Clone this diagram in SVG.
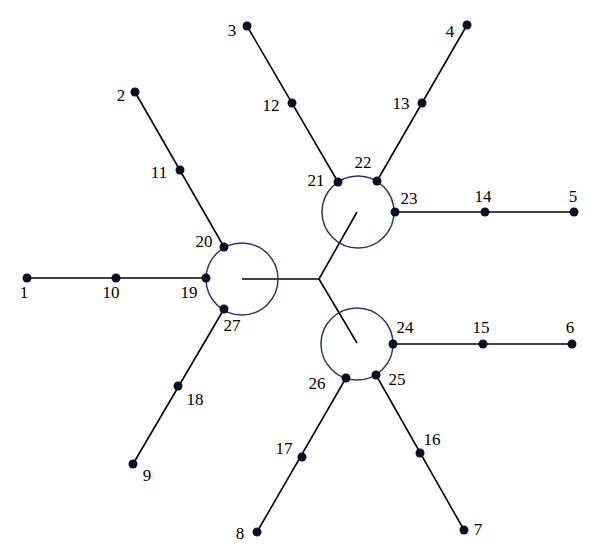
<svg xmlns="http://www.w3.org/2000/svg" width="600" height="560" viewBox="0 0 600 560">
<style>
.e{stroke:#000;stroke-width:1.6;fill:none}
.c{stroke:#2b3566;stroke-width:1.5;fill:none}
.d{fill:#0a0f26}
text{font-family:"Liberation Serif","Times New Roman",serif;font-size:17px;fill:#000;text-anchor:middle}
</style>
<rect width="600" height="560" fill="#fff"/>
<g id="connectors">
<line class="e" x1="27" y1="278" x2="206" y2="278"/>
<line class="e" x1="135" y1="92" x2="224" y2="247"/>
<line class="e" x1="133" y1="464" x2="224" y2="309"/>
<line class="e" x1="247" y1="26" x2="338" y2="182"/>
<line class="e" x1="467" y1="25" x2="377" y2="181"/>
<line class="e" x1="395" y1="212" x2="574" y2="212"/>
<line class="e" x1="393" y1="344" x2="572" y2="344"/>
<line class="e" x1="376" y1="375" x2="464" y2="530"/>
<line class="e" x1="346" y1="378" x2="257" y2="532"/>
<line class="e" x1="242" y1="279" x2="319" y2="279"/>
<line class="e" x1="319" y1="279" x2="357" y2="212"/>
<line class="e" x1="319" y1="279" x2="357" y2="343"/>
</g>
<g id="ring-left"><circle class="c" cx="242" cy="279" r="36"/></g>
<g id="ring-top"><circle class="c" cx="358" cy="212" r="36"/></g>
<g id="ring-bottom"><circle class="c" cx="357" cy="344" r="36"/></g>
<g id="n1"><circle class="d" cx="27" cy="278" r="4.5"/><text x="24" y="298">1</text></g>
<g id="n10"><circle class="d" cx="116" cy="278" r="4.5"/><text x="111" y="298">10</text></g>
<g id="n19"><circle class="d" cx="206" cy="278" r="4.5"/><text x="189" y="298">19</text></g>
<g id="n20"><circle class="d" cx="224" cy="247" r="4.5"/><text x="204" y="247">20</text></g>
<g id="n27"><circle class="d" cx="224" cy="309" r="4.5"/><text x="232" y="331">27</text></g>
<g id="n2"><circle class="d" cx="135" cy="92" r="4.5"/><text x="121" y="101">2</text></g>
<g id="n11"><circle class="d" cx="180" cy="170" r="4.5"/><text x="159" y="178">11</text></g>
<g id="n18"><circle class="d" cx="178" cy="386" r="4.5"/><text x="195" y="405">18</text></g>
<g id="n9"><circle class="d" cx="133" cy="464" r="4.5"/><text x="147" y="481">9</text></g>
<g id="n3"><circle class="d" cx="247" cy="26" r="4.5"/><text x="232" y="36">3</text></g>
<g id="n12"><circle class="d" cx="292" cy="103" r="4.5"/><text x="271" y="111">12</text></g>
<g id="n21"><circle class="d" cx="338" cy="182" r="4.5"/><text x="316" y="186">21</text></g>
<g id="n22"><circle class="d" cx="377" cy="181" r="4.5"/><text x="363" y="168">22</text></g>
<g id="n23"><circle class="d" cx="395" cy="212" r="4.5"/><text x="409" y="204">23</text></g>
<g id="n13"><circle class="d" cx="422" cy="103" r="4.5"/><text x="401" y="109">13</text></g>
<g id="n4"><circle class="d" cx="467" cy="25" r="4.5"/><text x="450" y="37">4</text></g>
<g id="n14"><circle class="d" cx="485" cy="212" r="4.5"/><text x="483" y="202">14</text></g>
<g id="n5"><circle class="d" cx="574" cy="212" r="4.5"/><text x="573" y="202">5</text></g>
<g id="n24"><circle class="d" cx="393" cy="344" r="4.5"/><text x="405" y="333">24</text></g>
<g id="n15"><circle class="d" cx="483" cy="344" r="4.5"/><text x="481" y="333">15</text></g>
<g id="n6"><circle class="d" cx="572" cy="344" r="4.5"/><text x="570" y="333">6</text></g>
<g id="n25"><circle class="d" cx="376" cy="375" r="4.5"/><text x="397" y="385">25</text></g>
<g id="n26"><circle class="d" cx="346" cy="378" r="4.5"/><text x="317" y="389">26</text></g>
<g id="n16"><circle class="d" cx="420" cy="453" r="4.5"/><text x="432" y="445">16</text></g>
<g id="n7"><circle class="d" cx="464" cy="530" r="4.5"/><text x="478" y="535">7</text></g>
<g id="n17"><circle class="d" cx="302" cy="457" r="4.5"/><text x="284" y="454">17</text></g>
<g id="n8"><circle class="d" cx="257" cy="532" r="4.5"/><text x="240" y="539">8</text></g>
</svg>
